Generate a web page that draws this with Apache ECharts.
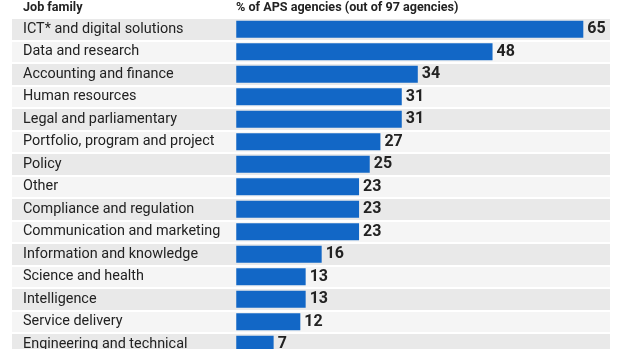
<!DOCTYPE html>
<html>
<head>
<meta charset="utf-8">
<script src="https://cdn.jsdelivr.net/npm/echarts@6/dist/echarts.min.js"></script>
<style>
  html, body { margin: 0; padding: 0; background: #ffffff; }
  #chart { width: 620px; height: 349px; }
</style>
</head>
<body>
<div id="chart"></div>
<script>
// Job families reported by APS agencies (count out of 97 agencies)
const jobFamilies = [
  'ICT* and digital solutions',
  'Data and research',
  'Accounting and finance',
  'Human resources',
  'Legal and parliamentary',
  'Portfolio, program and project',
  'Policy',
  'Other',
  'Compliance and regulation',
  'Communication and marketing',
  'Information and knowledge',
  'Science and health',
  'Intelligence',
  'Service delivery',
  'Engineering and technical'
];
const agencyCounts = [65, 48, 34, 31, 31, 27, 25, 23, 23, 23, 16, 13, 13, 12, 7];

const headerLeft = 'Job family';
const headerRight = '% of APS agencies (out of 97 agencies)';

const FONT = 'Roboto, "Noto Sans", sans-serif';
const chart = echarts.init(document.getElementById('chart'), null, { renderer: 'canvas' });

chart.setOption({
  animation: false,
  backgroundColor: '#ffffff',
  title: [
    {
      text: headerLeft, left: 23, top: 1, padding: 0,
      textStyle: { fontFamily: FONT, fontSize: 12.6, fontWeight: 'bold', color: '#222222' }
    },
    {
      text: headerRight, left: 236, top: 1, padding: 0,
      textStyle: { fontFamily: FONT, fontSize: 12.6, fontWeight: 'bold', color: '#222222' }
    }
  ],
  // the last row runs past the bottom edge, so the grid is not kept inside the canvas
  grid: { left: 12, right: 10, top: 18, height: 337.5, outerBoundsMode: 'none', containLabel: false },
  xAxis: {
    type: 'value',
    min: -42,
    max: 70,
    show: false,
    splitLine: { show: false }
  },
  yAxis: {
    type: 'category',
    data: jobFamilies,
    inverse: true,
    axisLine: { show: false },
    axisTick: { show: false },
    axisLabel: {
      inside: true,
      margin: 11,
      interval: 0,
      fontFamily: FONT,
      fontSize: 14.4,
      color: '#222222'
    },
    splitArea: {
      show: true,
      interval: 0,
      areaStyle: { color: ['#e9e9e9', '#f5f5f5'] }
    },
    splitLine: {
      show: true,
      interval: 0,
      lineStyle: { color: '#ffffff', width: 2 }
    }
  },
  series: [
    {
      type: 'bar',
      data: agencyCounts,
      barWidth: 17,
      z: 5,
      itemStyle: { color: '#1267c6' },
      label: {
        show: true,
        position: 'right',
        distance: 4,
        fontFamily: FONT,
        fontSize: 16,
        fontWeight: 'bold',
        color: '#222222'
      }
    }
  ]
});
</script>
</body>
</html>
